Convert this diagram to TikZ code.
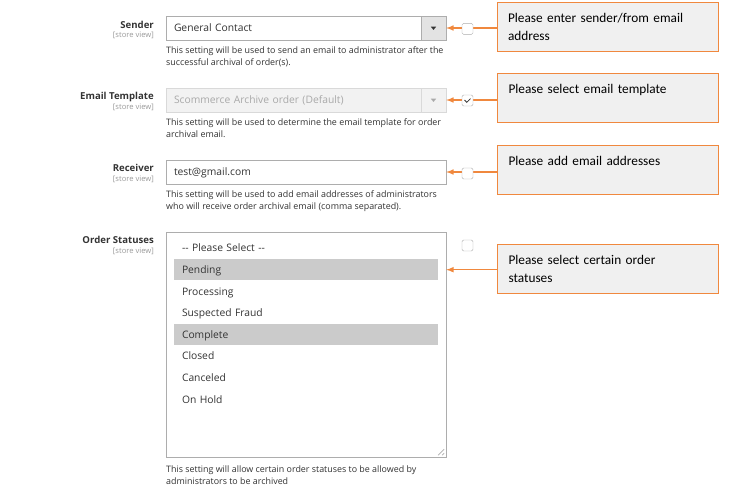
\documentclass[tikz,border=0pt]{standalone}
\usepackage{fontspec}
\setmainfont{Open Sans}
\newfontfamily\notefont{Carlito}
\definecolor{accent}{HTML}{F0883E}
\definecolor{notebg}{HTML}{F0F0F0}
\definecolor{edge}{HTML}{ADADAD}
\definecolor{ink}{HTML}{333333}
\definecolor{muted}{HTML}{999999}
\definecolor{pick}{HTML}{CBCBCB}
\definecolor{btn}{HTML}{E3E3E3}
\definecolor{off}{HTML}{A9A9A9}
\definecolor{offbg}{HTML}{F2F2F2}
\definecolor{offedge}{HTML}{D9D9D9}

\begin{document}
\begin{tikzpicture}[x=1pt, y=-1pt,
  lbl/.style={anchor=base east, inner sep=0pt, text=ink, font=\fontsize{9.6}{11}\selectfont\bfseries},
  sv/.style={anchor=base east, inner sep=0pt, text=muted, font=\fontsize{7.6}{8}\selectfont},
  help/.style={anchor=north west, inner sep=0pt, align=left, text=ink, font=\fontsize{8.9}{12}\selectfont},
  fieldbox/.style={draw=edge, fill=white, minimum width=280pt, minimum height=24pt, text width=264pt, inner xsep=8pt, inner ysep=0pt, text height=7.4pt, text depth=0pt, text=ink, font=\fontsize{10.3}{12}\selectfont},
  opt/.style={minimum width=264pt, minimum height=21pt, text width=248pt, inner xsep=8pt, inner ysep=0pt, text height=7.4pt, text depth=0pt, text=ink, font=\fontsize{10.3}{12}\selectfont},
  btnbox/.style={draw=edge, fill=btn, minimum width=25pt, minimum height=24pt, anchor=east},
  chk/.style={draw=edge, fill=white, rounded corners=1.5pt, minimum size=11pt, inner sep=0pt},
  note/.style={draw=accent, fill=notebg, line width=1pt, minimum width=221pt, minimum height=49pt, text width=199pt, inner xsep=11pt, inner ysep=0pt, align=left, text=black, font=\notefont\fontsize{13.3}{18}\selectfont},
  oneline/.style={text height=9.5pt, text depth=18.7pt},
  pointer/.style={->, >=latex, draw=accent, line width=1.5pt}
]
\useasboundingbox (0,0) rectangle (750,501);

\path
(154,28.5) node[lbl] (sender) {Sender}
(154,37.5) node[sv] (sendersv) {[store view]}
(306,28) node[fieldbox] (senderbox) {General Contact}
(166,46) node[help] (senderhelp) {This setting will be used to send an email to administrator after the\\successful archival of order(s).}

(154,99) node[lbl] (tpl) {Email Template}
(154,109.5) node[sv] (tplsv) {[store view]}
(306,100) node[fieldbox, draw=offedge, fill=offbg, text=off] (tplbox) {Scommerce Archive order (Default)}
(166,118) node[help] (tplhelp) {This setting will be used to determine the email template for order\\archival email.}

(154,171.5) node[lbl] (rcv) {Receiver}
(154,181.5) node[sv] (rcvsv) {[store view]}
(306,172) node[fieldbox] (rcvbox) {test@gmail.com}
(166,190) node[help] (rcvhelp) {This setting will be used to add email addresses of administrators\\who will receive order archival email (comma separated).}

(154,243) node[lbl] (status) {Order Statuses}
(154,253) node[sv] (statussv) {[store view]}
(306,344.5) node[draw=edge, fill=white, minimum width=280pt, minimum height=225pt] (statusbox) {}
(166,465.5) node[help] (statushelp) {This setting will allow certain order statuses to be allowed by\\administrators to be archived};

% list entries
\path
(306,248.1) node[opt] (opt0) {-{}- Please Select -{}-}
(306,269.7) node[opt, fill=pick] (opt1) {Pending}
(306,291.3) node[opt] (opt2) {Processing}
(306,312.9) node[opt] (opt3) {Suspected Fraud}
(306,334.5) node[opt, fill=pick] (opt4) {Complete}
(306,356.1) node[opt] (opt5) {Closed}
(306,377.7) node[opt] (opt6) {Canceled}
(306,399.3) node[opt] (opt7) {On Hold};

\path
(senderbox.east) node[btnbox] (b1) {}
(tplbox.east) node[btnbox, draw=offedge, fill=offbg] (b2) {};
\fill[ink] (b1.center) ++(-2.7,-1.3) -- ++(5.4,0) -- ++(-2.7,3.2) -- cycle;
\fill[off] (b2.center) ++(-2.7,-1.3) -- ++(5.4,0) -- ++(-2.7,3.2) -- cycle;
\draw[edge, line width=0.6pt] (statusbox.south east) ++(-8,-2) -- ++(6,-6) (statusbox.south east) ++(-4,-2) -- ++(2,-2);

\path
(607.5,26.5) node[note] (note1) {Please enter sender/from email\\address}
(608,97.8) node[note, oneline] (note2) {Please select email template}
(608,169.7) node[note, oneline] (note3) {Please add email addresses}
(608,269) node[note] (note4) {Please select certain order\\statuses};

\draw[pointer] (note1.west |- senderbox) -- (senderbox.east);
\draw[pointer] (note2.west |- tplbox) -- (tplbox.east);
\draw[pointer] (note3.west |- rcvbox) -- (rcvbox.east);
\draw[pointer] (note4.west |- opt1) -- (statusbox.east |- opt1);

\path
(467.5,28.8) node[chk] (chk1) {}
(467.5,100.5) node[chk] (chk2) {}
(467.5,173.5) node[chk] (chk3) {}
(467.5,245.5) node[chk] (chk4) {};
\draw[ink, line width=0.8pt] (chk2.center) ++(-3,-0.5) -- ++(2.3,2.3) -- ++(3.7,-3.7);
\end{tikzpicture}
\end{document}
